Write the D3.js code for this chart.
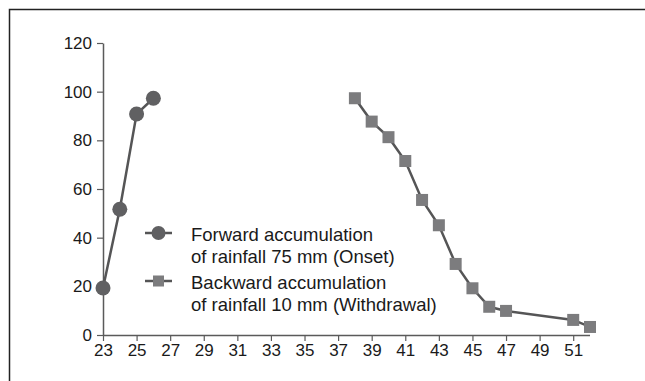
<!DOCTYPE html>
<html>
<head>
<meta charset="utf-8">
<script src="https://cdn.jsdelivr.net/npm/d3@7/dist/d3.min.js"></script>
<style>
  html, body { margin: 0; padding: 0; background: #fff; }
  svg { display: block; }
  text { font-family: "Liberation Sans", Arial, Helvetica, sans-serif; fill: #1a1a1a; }
</style>
</head>
<body>
<svg id="chart" width="645" height="381"></svg>
<script>
// Week number vs. cumulative percentage
const onsetWeeks = [23, 24, 25, 26];
const onsetValues = [19.3, 51.7, 90.8, 97.3];
const withdrawalWeeks = [38, 39, 40, 41, 42, 43, 44, 45, 46, 47, 51, 52];
const withdrawalValues = [97.3, 87.7, 81.3, 71.5, 55.5, 45.1, 29.2, 19.2, 11.6, 9.9, 6.2, 3.3];
const xTicks = [23, 25, 27, 29, 31, 33, 35, 37, 39, 41, 43, 45, 47, 49, 51];
const yTicks = [0, 20, 40, 60, 80, 100, 120];
const legendLines = [
  ["Forward accumulation", "of rainfall 75 mm (Onset)"],
  ["Backward accumulation", "of rainfall 10 mm (Withdrawal)"]
];

const svg = d3.select("#chart");
const axisColor = "#5a5a5a";
const lineColor = "#555556";
const circleColor = "#606062";
const squareColor = "#7c7c7e";

// outer frame (top and left edges)
svg.append("path")
  .attr("d", "M9.5,381 L9.5,9.5 L645,9.5")
  .attr("fill", "none").attr("stroke", "#222").attr("stroke-width", 1.5);

const x = d3.scaleLinear().domain([23, 52]).range([103, 590]);
const y = d3.scaleLinear().domain([0, 120]).range([335, 43]);

// axes
const xAxis = svg.append("g").attr("transform", `translate(0,${y(0)})`)
  .call(d3.axisBottom(x).tickValues(xTicks).tickSize(6).tickPadding(3).tickFormat(d3.format("d")));
const yAxis = svg.append("g").attr("transform", `translate(${x(23)},0)`)
  .call(d3.axisLeft(y).tickValues(yTicks).tickSize(6).tickPadding(5).tickSizeOuter(0));

[xAxis, yAxis].forEach(g => {
  g.select(".domain").attr("stroke", axisColor).attr("stroke-width", 1.5);
  g.selectAll(".tick line").attr("stroke", axisColor).attr("stroke-width", 1.2);
  g.selectAll(".tick text").attr("font-size", 17).attr("fill", "#1a1a1a")
    .attr("font-family", "Liberation Sans, Arial, sans-serif");
});
xAxis.select(".domain").attr("d", `M${x(23)},0.5H${x(52)}`);

// series
const line = d3.line().x(d => x(d[0])).y(d => y(d[1]));
const onset = onsetWeeks.map((w, i) => [w, onsetValues[i]]);
const withdrawal = withdrawalWeeks.map((w, i) => [w, withdrawalValues[i]]);

svg.append("path").datum(onset).attr("d", line)
  .attr("fill", "none").attr("stroke", lineColor).attr("stroke-width", 2.5);
svg.append("path").datum(withdrawal).attr("d", line)
  .attr("fill", "none").attr("stroke", lineColor).attr("stroke-width", 2.5);

svg.selectAll("circle.onset").data(onset).join("circle")
  .attr("class", "onset")
  .attr("cx", d => x(d[0])).attr("cy", d => y(d[1])).attr("r", 7.5)
  .attr("fill", circleColor);

const sq = 12;
svg.selectAll("rect.withdrawal").data(withdrawal).join("rect")
  .attr("class", "withdrawal")
  .attr("x", d => x(d[0]) - sq / 2).attr("y", d => y(d[1]) - sq / 2)
  .attr("width", sq).attr("height", sq)
  .attr("fill", squareColor);

// legend
const legend = svg.append("g");
const legendY = [233, 281];
legendY.forEach((ly, i) => {
  legend.append("line").attr("x1", 145).attr("x2", 172).attr("y1", ly).attr("y2", ly)
    .attr("stroke", lineColor).attr("stroke-width", 2.5);
  if (i === 0) {
    legend.append("circle").attr("cx", 158.5).attr("cy", ly).attr("r", 7).attr("fill", circleColor);
  } else {
    legend.append("rect").attr("x", 158.5 - 5.5).attr("y", ly - 5.5).attr("width", 11).attr("height", 11)
      .attr("fill", squareColor);
  }
  const t = legend.append("text").attr("x", 191).attr("y", ly + 7.5).attr("font-size", 18.5);
  legendLines[i].forEach((s, j) => {
    t.append("tspan").attr("x", 191).attr("dy", j === 0 ? 0 : 22).text(s);
  });
});
</script>
</body>
</html>
